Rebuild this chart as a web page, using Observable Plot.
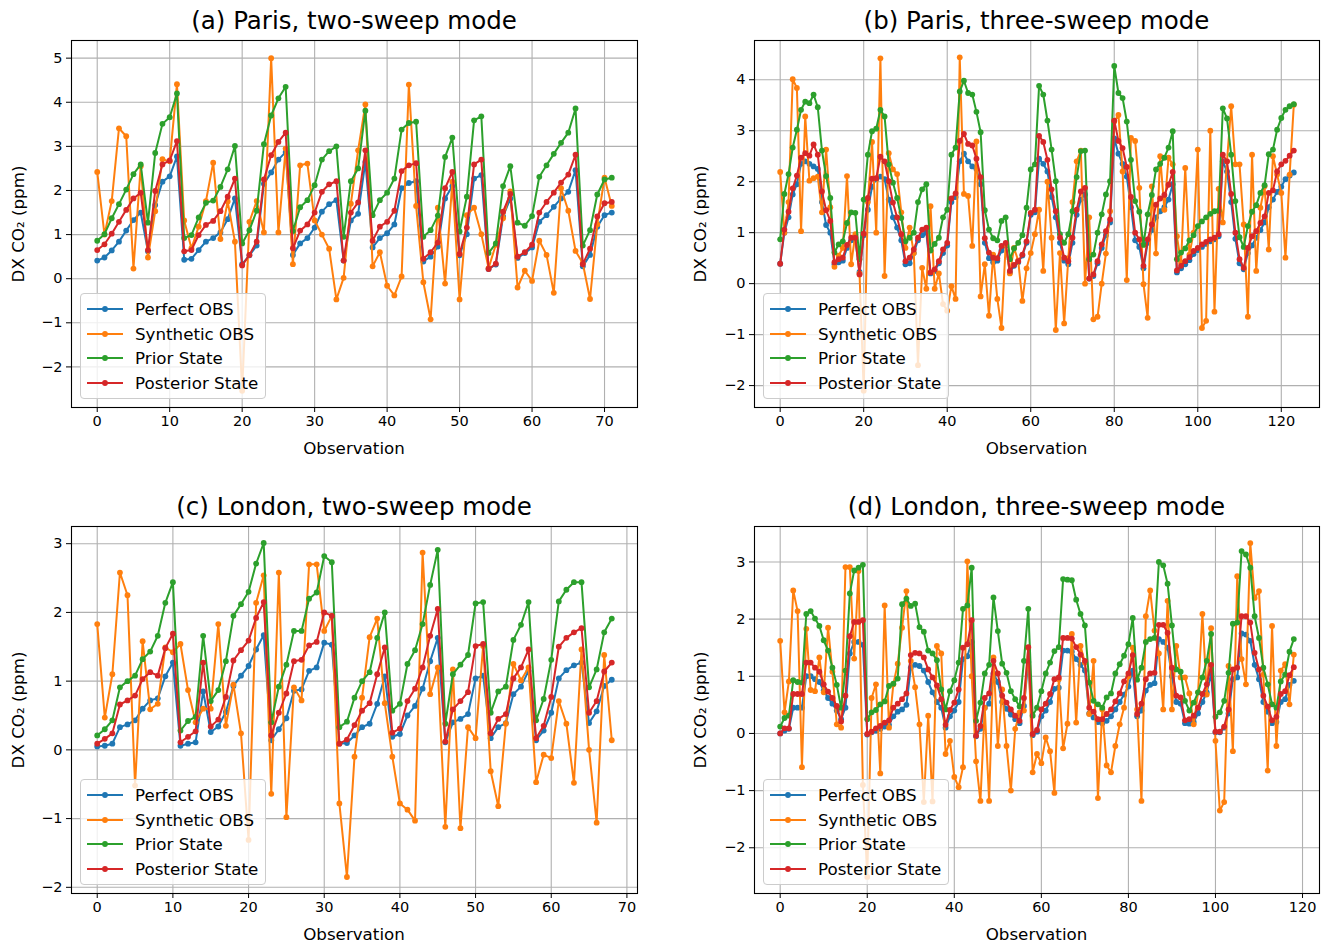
<!DOCTYPE html>
<html><head><meta charset="utf-8">
<script src="https://cdn.jsdelivr.net/npm/d3@7"></script>
<script src="https://cdn.jsdelivr.net/npm/@observablehq/plot@0.6"></script>
<style>
body{margin:0;background:#fff;}
#fig{position:relative;width:1321px;height:948px;font-family:"DejaVu Sans",sans-serif;color:#000;overflow:hidden;}
.abs{position:absolute;}
.title{font-size:24.5px;white-space:nowrap;transform:translate(-50%,-50%);}
.xlab{font-size:16.7px;white-space:nowrap;transform:translate(-50%,-50%);}
.ylab{font-size:16.7px;white-space:nowrap;transform:translate(-50%,-50%) rotate(-90deg);}
.legend{border:1px solid #cccccc;border-radius:4px;background:rgba(255,255,255,0.8);box-sizing:border-box;}
.legend .row{position:absolute;left:0;height:24px;display:flex;align-items:center;font-size:16.7px;white-space:nowrap;}
</style></head><body><div id="fig"></div>
<script>
// ---------- DATA ----------
const seriesNames = ["Perfect OBS", "Synthetic OBS", "Prior State", "Posterior State"];
const seriesColors = ["#1f77b4", "#ff7f0e", "#2ca02c", "#d62728"];

// (a) Paris, two-sweep mode
const a_perfect = [0.41,0.48,0.64,0.84,1.09,1.33,1.50,0.62,1.67,2.20,2.32,2.77,0.43,0.45,0.65,0.84,0.92,1.05,1.35,1.82,0.33,0.53,0.75,2.15,2.41,2.70,2.87,0.54,0.80,0.92,1.16,1.52,1.69,1.78,0.41,1.32,1.47,2.65,0.71,0.92,1.03,1.23,2.05,2.17,2.21,0.39,0.50,0.73,1.82,2.10,0.53,1.01,2.27,2.35,0.22,0.32,1.41,1.82,0.47,0.58,0.71,1.29,1.44,1.63,1.82,1.97,2.46,0.28,0.54,1.18,1.44,1.50];
const a_synth = [2.42,1.0,1.76,3.41,3.23,0.23,2.55,0.48,1.53,2.71,2.66,4.41,1.32,0.69,1.18,1.76,2.63,0.90,1.75,0.84,-2.54,1.29,1.76,1.05,5.0,1.05,2.95,0.33,2.57,2.61,1.32,1.0,0.68,-0.47,0.02,1.7,2.91,3.95,0.28,0.60,-0.16,-0.38,0.05,4.40,1.65,-0.08,-0.92,1.61,-0.11,2.2,-0.47,1.44,1.61,1.01,0.24,0.77,1.37,1.98,-0.20,0.18,-0.05,0.86,0.54,-0.32,2.05,1.54,0.63,0.35,-0.46,1.23,2.29,1.65];
const a_prior = [0.86,1.01,1.37,1.69,2.02,2.37,2.59,1.27,2.85,3.51,3.66,4.20,0.92,0.99,1.39,1.72,1.77,2.08,2.48,3.01,0.80,1.10,1.54,3.05,3.70,4.09,4.35,1.08,1.62,1.78,2.12,2.70,2.89,3.0,0.95,2.21,2.50,3.81,1.44,1.78,1.95,2.27,3.38,3.53,3.56,0.95,1.10,1.43,2.76,3.20,1.07,1.86,3.59,3.68,0.58,0.80,2.10,2.55,1.27,1.20,1.42,2.31,2.57,2.83,3.08,3.31,3.86,0.75,1.10,1.91,2.25,2.29];
const a_post = [0.65,0.78,1.02,1.29,1.56,1.82,1.95,0.65,1.99,2.59,2.68,3.12,0.62,0.65,0.99,1.22,1.31,1.53,1.86,2.27,0.30,0.54,0.84,2.25,2.80,3.10,3.31,0.69,1.09,1.23,1.50,1.97,2.14,2.21,0.41,1.50,1.73,2.91,0.86,1.18,1.29,1.54,2.44,2.57,2.62,0.45,0.60,0.82,2.05,2.42,0.56,1.16,2.59,2.70,0.22,0.34,1.52,1.92,0.50,0.60,0.77,1.50,1.74,1.95,2.18,2.36,2.81,0.33,0.68,1.41,1.71,1.74];

// (b) Paris, three-sweep mode
const b_perfect = [0.39,1.0,1.3,1.75,1.95,2.35,2.4,2.35,2.3,2.25, 1.6,1.15,1.0,0.38,0.42,0.45,0.7,0.85,0.85,0.23, 0.95,1.45,1.9,2.05,2.1,2.05,1.65,1.3,1.1,0.85, 0.38,0.4,0.6,0.85,0.95,1.0,0.2,0.25,0.4,0.6, 0.75,1.6,1.7,2.4,2.55,2.4,2.3,2.25,1.95,0.8, 0.5,0.42,0.45,0.65,0.75,0.22,0.35,0.42,0.55,0.8, 1.35,1.4,2.45,2.35,2.2,1.7,1.3,0.8,0.45,0.38, 0.8,1.35,1.65,1.75,0.1,0.15,0.4,0.7,0.95,1.2, 2.85,2.55,2.35,2.1,1.5,0.85,0.72,0.3,0.8,1.05, 1.3,1.42,1.5,1.65,1.95,0.22,0.3,0.38,0.46,0.58, 0.66,0.72,0.78,0.83,0.87,0.93,2.4,2.2,1.6,0.88, 0.4,0.28,0.6,0.75,0.9,1.05,1.2,1.5,1.65,1.8, 1.9,2.05,2.12,2.18];
const b_synth = [2.19,1.0,1.6,4.01,3.84,1.03,3.28,2.02,2.07,2.1, 1.4,2.63,1.5,0.33,0.55,0.7,2.11,0.38,0.97,0.2, -2.1,1.6,2.78,1.0,4.42,0.15,2.56,2.24,2.15,1.4, 0.7,1.1,0.6,-1.6,0.31,-0.1,1.52,-0.1,0.2,-0.4, -0.53,-0.05,-0.3,4.44,1.76,1.72,0.74,2.79,-0.25,0.38, -0.63,0.57,-0.3,-0.87,0.77,0.2,0.7,0.45,-0.34,0.3, 0.6,0.97,1.45,0.25,2.0,0.9,-0.91,0.6,-0.78,0.5, 1.6,2.4,2.61,0.0,1.3,-0.7,-0.65,0.0,0.59,1.42, 3.18,3.31,2.2,0.07,2.86,2.80,1.88,-0.01,-0.67,1.91, 0.59,2.50,1.45,2.47,2.34,0.93,0.41,2.27,0.57,1.0, 2.63,-0.87,-0.73,3.0,-0.55,1.86,1.2,2.4,3.48,2.34, 2.34,1.16,-0.65,2.53,0.25,1.49,1.91,0.67,2.5,2.14, 1.78,0.51,2.14,3.51];
const b_prior = [0.87,1.76,2.15,2.67,3.02,3.41,3.57,3.54,3.71,3.46, 2.61,2.11,1.68,0.61,0.77,0.83,1.19,1.40,1.39,0.48, 1.65,2.53,2.99,3.04,3.41,3.28,2.34,1.98,1.68,1.29, 0.83,0.90,1.0,1.6,1.85,1.95,0.65,0.78,0.9,1.3, 1.45,2.53,2.67,3.77,3.98,3.74,3.71,3.37,2.97,1.44, 1.06,0.89,0.85,1.23,1.30,0.48,0.69,0.80,0.95,1.49, 2.24,2.34,3.88,3.71,3.20,2.63,2.01,0.97,0.80,0.97, 1.42,2.09,2.60,2.61,0.48,0.57,1.0,1.36,1.75,2.01, 4.27,3.74,3.64,3.18,2.43,1.62,1.41,0.76,1.36,1.74, 2.24,2.35,2.47,2.67,2.99,0.48,0.61,0.69,0.85,0.95, 1.13,1.22,1.30,1.37,1.42,1.43,3.44,3.24,2.53,1.62, 0.91,0.72,1.13,1.41,1.54,1.78,1.93,2.54,2.63,3.02, 3.25,3.41,3.48,3.52];
const b_post = [0.39,1.06,1.41,1.87,2.12,2.47,2.56,2.51,2.73,2.53, 1.81,1.44,1.23,0.42,0.48,0.51,0.76,0.90,0.90,0.18, 0.98,1.68,2.06,2.07,2.49,2.40,2.01,1.59,1.30,0.97, 0.44,0.51,0.67,0.90,1.06,1.10,0.22,0.28,0.44,0.67, 0.80,1.67,1.77,2.80,2.94,2.74,2.71,2.45,2.09,0.89, 0.61,0.51,0.50,0.74,0.80,0.25,0.37,0.44,0.57,0.83, 1.39,1.45,2.90,2.78,2.43,1.85,1.42,0.90,0.51,0.44, 0.90,1.45,1.81,1.88,0.10,0.18,0.44,0.77,1.03,1.26, 3.20,2.80,2.66,2.29,1.70,1.0,0.87,0.35,0.87,1.16, 1.55,1.67,1.74,1.94,2.19,0.26,0.35,0.44,0.52,0.64, 0.70,0.77,0.82,0.87,0.90,0.97,2.53,2.40,1.76,1.0, 0.48,0.31,0.70,0.93,1.03,1.19,1.32,1.78,1.83,2.20, 2.34,2.41,2.51,2.61];

// (c) London, two-sweep mode
const c_perfect = [0.05,0.06,0.09,0.33,0.37,0.43,0.60,0.72,0.75,1.07, 1.27,0.06,0.09,0.11,0.85,0.26,0.34,0.55,0.93,1.08, 1.22,1.46,1.67,0.14,0.30,0.46,0.86,0.88,1.15,1.20, 1.56,1.53,0.09,0.10,0.21,0.33,0.38,0.67,1.07,0.19, 0.23,0.50,0.64,0.89,1.29,1.63,0.11,0.40,0.45,0.52, 1.04,1.08,0.17,0.33,0.39,0.81,0.92,1.15,0.14,0.28, 0.54,1.04,1.16,1.23,1.27,0.39,0.56,0.93,1.02];
const c_synth = [1.83,0.47,1.10,2.58,2.25,-0.52,1.58,0.59,0.67,1.49, 1.42,1.54,0.87,0.40,0.6,0.6,1.83,0.35,0.95,0.24, -1.31,2.14,2.54,-0.64,2.58,-0.98,0.91,0.72,2.70,2.70, 1.73,1.95,-0.78,-1.85,-0.10,0.76,1.64,1.91,0.68,-0.10, -0.78,-0.87,-1.03,2.87,0.81,1.20,-1.12,1.17,-1.14,0.33, 0.17,1.51,-0.31,-0.82,0.38,1.25,1.01,1.2,-0.47,-0.07, -0.12,0.71,0.38,-0.48,1.46,0.0,-1.06,1.38,0.14];
const c_prior = [0.21,0.30,0.43,0.91,1.0,1.08,1.32,1.43,1.66,2.14, 2.44,0.28,0.42,0.48,1.66,0.71,0.87,1.29,1.95,2.12, 2.30,2.71,3.01,0.40,0.92,1.24,1.73,1.73,2.20,2.29, 2.82,2.73,0.33,0.41,0.76,1.0,1.13,1.63,2.0,0.57, 0.67,1.25,1.45,1.83,2.40,2.91,0.38,1.10,1.24,1.38, 2.13,2.15,0.54,0.85,0.92,1.60,1.82,2.15,0.43,0.74, 1.31,2.16,2.33,2.44,2.44,0.91,1.17,1.71,1.91];
const c_post = [0.09,0.16,0.24,0.66,0.72,0.79,1.03,1.13,1.08,1.48, 1.69,0.11,0.19,0.27,1.27,0.34,0.44,0.77,1.30,1.45, 1.59,1.92,2.15,0.21,0.54,0.82,1.29,1.31,1.52,1.57, 2.0,1.95,0.09,0.15,0.36,0.57,0.68,1.10,1.49,0.25, 0.31,0.71,0.89,1.20,1.66,2.05,0.12,0.59,0.71,0.84, 1.51,1.54,0.24,0.45,0.52,1.04,1.20,1.46,0.17,0.35, 0.77,1.50,1.63,1.71,1.77,0.54,0.71,1.14,1.27];

// (d) London, three-sweep mode
const d_perfect = [0.0,0.05,0.08,0.45,0.45,0.45,1.0,1.0,0.95,0.9, 0.75,0.62,0.52,0.4,0.25,0.45,1.4,1.6,1.6,1.55, -0.02,0.02,0.05,0.08,0.12,0.15,0.3,0.38,0.42,0.5, 1.15,1.2,1.18,1.1,0.9,0.72,0.55,0.45,0.1,0.3, 0.4,0.55,1.3,1.35,1.6,-0.05,0.08,0.45,0.52,1.05, 0.9,0.55,0.43,0.33,0.25,0.18,0.48,1.25,-0.03,0.03, 0.3,0.4,0.55,0.78,0.8,1.45,1.45,1.43,1.3,1.2, 1.1,0.35,0.28,0.2,0.18,0.22,0.3,0.42,0.55,0.68, 0.82,1.1,0.3,0.4,0.75,0.85,0.88,1.65,1.6,1.5, 1.0,0.55,0.52,0.18,0.17,0.2,0.35,0.55,0.72,1.05, 0.02,0.02,0.1,0.35,0.95,0.98,1.75,1.73,1.62,1.2, 0.95,0.55,0.38,0.18,0.2,0.55,0.6,0.85,0.92];
const d_synth = [1.62,0.37,0.91,2.50,2.14,-0.59,1.83,0.76,0.74,1.33, 0.72,1.85,1.08,0.16,0.1,2.91,2.91,1.31,2.84,-0.9, -2.51,0.62,0.86,-0.7,2.24,0.1,0.86,1.22,1.85,2.49, 1.27,0.81,0.16,-1.2,0.31,-1.19,1.53,1.4,-0.36,-0.13, -0.76,-0.94,-0.59,3.01,1.0,-0.49,-1.18,0.45,-1.18,1.33, -0.22,0.77,-0.22,-1.0,0.08,0.37,0.4,1.5,-0.68,-0.36, -0.52,-0.07,-0.31,-1.04,0.95,-0.26,0.17,1.74,0.19,1.53, 1.24,0.34,1.27,-1.13,0.42,-0.56,-0.68,-0.22,0.16,0.45, 1.0,1.5,0.42,-1.18,2.05,2.5,1.8,1.4,0.42,2.32, 0.42,1.53,0.98,0.98,0.7,0.16,0.72,2.09,0.68,1.84, -0.13,-1.35,-1.2,1.18,-0.31,2.75,1.3,0.86,3.33,2.37, 2.49,1.03,-0.65,1.88,-0.22,1.1,1.21,0.51,1.38];
const d_prior = [0.12,0.27,0.31,0.93,0.90,0.89,2.09,2.14,2.01,1.88, 1.63,1.45,1.15,0.85,0.45,1.1,2.45,2.85,2.9,2.95, 0.25,0.37,0.41,0.51,0.56,0.83,0.87,0.96,2.26,2.36, 2.23,2.27,1.86,1.78,1.45,1.40,1.28,0.77,0.42,0.74, 0.93,1.24,2.18,2.24,2.90,0.22,0.54,1.05,1.20,2.38, 1.79,1.22,1.06,0.74,0.60,0.47,1.27,2.18,0.31,0.45, 0.74,1.05,1.24,1.44,1.51,2.70,2.69,2.68,2.34,2.09, 1.89,0.89,0.57,0.51,0.45,0.63,0.70,1.05,1.21,1.36, 1.56,2.02,0.94,1.15,1.60,1.65,1.67,3.0,2.94,2.62, 1.89,1.12,1.08,0.57,0.40,0.54,0.72,0.98,1.27,1.74, 0.29,0.37,0.57,1.06,1.92,1.94,3.19,3.13,2.90,2.05, 1.67,1.15,0.86,0.51,0.45,0.91,1.03,1.43,1.65];
const d_post = [0.0,0.09,0.09,0.69,0.69,0.69,1.24,1.24,1.15,1.08, 0.86,0.73,0.62,0.48,0.21,0.66,1.70,1.95,1.95,1.98, -0.01,0.03,0.09,0.13,0.19,0.23,0.45,0.52,0.60,0.70, 1.37,1.41,1.40,1.33,1.12,0.98,0.84,0.6,0.15,0.41, 0.54,0.77,1.50,1.56,1.98,-0.04,0.13,0.62,0.70,1.27, 1.05,0.66,0.54,0.42,0.31,0.22,0.62,1.51,-0.01,0.06, 0.42,0.52,0.69,0.95,0.98,1.67,1.67,1.66,1.51,1.38, 1.27,0.45,0.38,0.25,0.25,0.34,0.42,0.56,0.70,0.91, 1.05,1.37,0.34,0.52,0.95,1.05,1.06,1.90,1.90,1.76, 1.15,0.66,0.63,0.23,0.25,0.31,0.45,0.69,0.86,1.20, 0.03,0.03,0.12,0.42,1.12,1.15,2.05,2.05,1.94,1.41, 1.12,0.66,0.47,0.23,0.29,0.69,0.74,1.02,1.16];

// tick values
const xTicks70 = [0,10,20,30,40,50,60,70];
const xTicks120 = [0,20,40,60,80,100,120];
const yTicksA = [-2,-1,0,1,2,3,4,5];
const yTicksB = [-2,-1,0,1,2,3,4];
const yTicksCD = [-2,-1,0,1,2,3];

const titles = ["(a) Paris, two-sweep mode", "(b) Paris, three-sweep mode", "(c) London, two-sweep mode", "(d) London, three-sweep mode"];
const xLabel = "Observation";
const yLabel = "DX CO\u2082 (ppm)";

// ---------- LAYOUT ----------
const panels = [
  {title: titles[0], L:71,  R:637,  T:40,  B:407, xd:[-3.55,74.55], yd:[-2.92,5.40], xt:xTicks70,  yt:yTicksA,  s:[a_perfect,a_synth,a_prior,a_post], ylabX:18},
  {title: titles[1], L:754, R:1319, T:40,  B:407, xd:[-6.15,129.15], yd:[-2.43,4.77], xt:xTicks120, yt:yTicksB,  s:[b_perfect,b_synth,b_prior,b_post], ylabX:700},
  {title: titles[2], L:71,  R:637,  T:526, B:893, xd:[-3.4,71.4],   yd:[-2.09,3.25], xt:xTicks70,  yt:yTicksCD, s:[c_perfect,c_synth,c_prior,c_post], ylabX:18},
  {title: titles[3], L:754, R:1319, T:526, B:893, xd:[-5.9,123.9],  yd:[-2.80,3.62], xt:xTicks120, yt:yTicksCD, s:[d_perfect,d_synth,d_prior,d_post], ylabX:700}
];

const fig = document.getElementById("fig");
const fmt = d => d < 0 ? "\u2212" + (-d) : String(d);
const mL = 60, mR = 2, mT = 6, mB = 30;

function addDiv(cls, text, x, y) {
  const d = document.createElement("div");
  d.className = "abs " + cls;
  d.textContent = text;
  d.style.left = x + "px";
  d.style.top = y + "px";
  fig.appendChild(d);
  return d;
}

for (const p of panels) {
  const marks = [
    Plot.gridX(p.xt, {stroke: "#b0b0b0", strokeOpacity: 1, strokeWidth: 1.1}),
    Plot.gridY(p.yt, {stroke: "#b0b0b0", strokeOpacity: 1, strokeWidth: 1.1})
  ];
  p.s.forEach((arr, k) => {
    const rows = arr.map((v, i) => ({x: i, y: v}));
    marks.push(Plot.line(rows, {x: "x", y: "y", stroke: seriesColors[k], strokeWidth: 2, strokeLinejoin: "round"}));
    marks.push(Plot.dot(rows, {x: "x", y: "y", fill: seriesColors[k], r: 2.9}));
  });
  marks.push(Plot.frame({stroke: "#000", strokeWidth: 1.1}));
  marks.push(Plot.axisX(p.xt, {tickSize: 5, tickPadding: 3, label: null, tickFormat: fmt}));
  marks.push(Plot.axisY(p.yt, {tickSize: 5, tickPadding: 4, label: null, tickFormat: fmt}));

  const w = (p.R - p.L) + mL + mR;
  const h = (p.B - p.T) + mT + mB;
  const svg = Plot.plot({
    width: w, height: h,
    marginLeft: mL, marginRight: mR, marginTop: mT, marginBottom: mB,
    x: {domain: p.xd},
    y: {domain: p.yd},
    style: {fontFamily: "DejaVu Sans", fontSize: "14.5px", color: "#000", background: "transparent", overflow: "visible"},
    marks
  });
  svg.style.position = "absolute";
  svg.style.left = (p.L - mL) + "px";
  svg.style.top = (p.T - mT) + "px";
  fig.appendChild(svg);

  const cx = (p.L + p.R) / 2;
  addDiv("title", p.title, cx, p.T - 20);
  addDiv("xlab", xLabel, cx, p.B + 41);
  addDiv("ylab", yLabel, p.ylabX, (p.T + p.B) / 2);

  // legend
  const lg = document.createElement("div");
  lg.className = "abs legend";
  lg.style.left = (p.L + 9) + "px";
  lg.style.top = (p.B - 114) + "px";
  lg.style.width = "186px";
  lg.style.height = "106px";
  seriesNames.forEach((name, k) => {
    const row = document.createElement("div");
    row.className = "row";
    row.style.top = (3 + k * 24.6) + "px";
    row.innerHTML = `<svg width="54" height="24" style="flex:none"><line x1="6" x2="42" y1="12" y2="12" stroke="${seriesColors[k]}" stroke-width="2"/><circle cx="24" cy="12" r="2.9" fill="${seriesColors[k]}"/></svg><span>${name}</span>`;
    lg.appendChild(row);
  });
  fig.appendChild(lg);
}
</script></body></html>
